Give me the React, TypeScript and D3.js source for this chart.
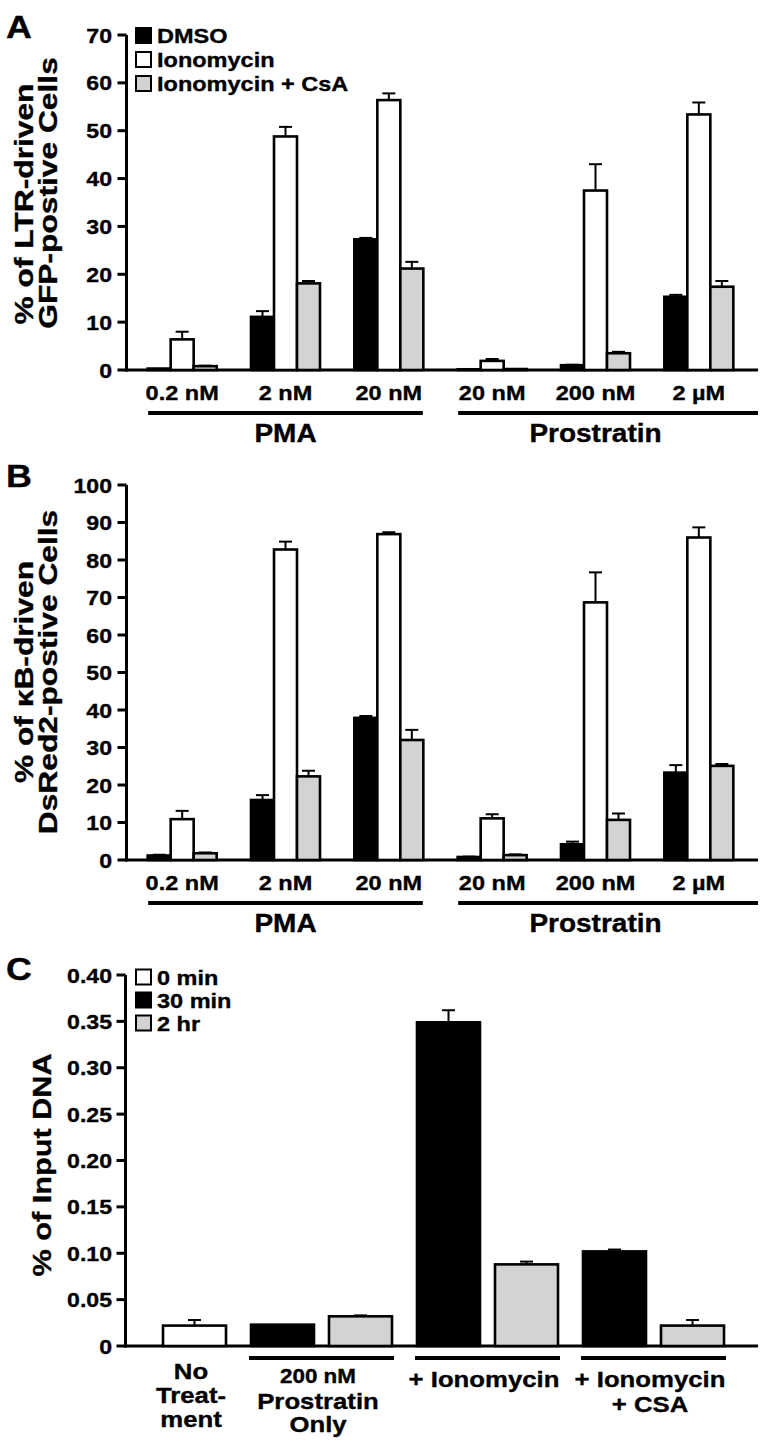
import React from "react";
import * as d3 from "d3";

// ---------- DATA ----------
const doseKeys = ["PMA 0.2 nM", "PMA 2 nM", "PMA 20 nM", "Pro 20 nM", "Pro 200 nM", "Pro 2 µM"];
const doseLabels = ["0.2 nM", "2 nM", "20 nM", "20 nM", "200 nM", "2 µM"];
const drugGroups = [
  { name: "PMA", from: 0, to: 2 },
  { name: "Prostratin", from: 3, to: 5 },
];
const seriesAB = ["DMSO", "Ionomycin", "Ionomycin + CsA"];
const seriesABFill = ["#000000", "#ffffff", "#d3d3d3"];

// Panel A: % of LTR-driven GFP-positive cells
const gfpDMSO = [0.3, 11.1, 27.3, 0.15, 1.0, 15.3];
const gfpDMSOErr = [0, 1.2, 0.3, 0, 0.1, 0.4];
const gfpIono = [6.4, 48.8, 56.4, 1.9, 37.5, 53.4];
const gfpIonoErr = [1.6, 2.0, 1.4, 0.4, 5.5, 2.5];
const gfpCsA = [0.8, 18.1, 21.2, 0.2, 3.5, 17.4];
const gfpCsAErr = [0.1, 0.5, 1.4, 0, 0.3, 1.2];
const gfpTicks = [0, 10, 20, 30, 40, 50, 60, 70];

// Panel B: % of kB-driven DsRed2-positive cells
const redDMSO = [1.2, 16.0, 37.9, 0.8, 4.2, 23.3];
const redDMSOErr = [0.2, 1.3, 0.5, 0.1, 0.7, 2.0];
const redIono = [10.9, 82.8, 86.9, 11.1, 68.7, 86.0];
const redIonoErr = [2.2, 2.1, 0.5, 1.1, 8.0, 2.7];
const redCsA = [1.8, 22.3, 32.0, 1.3, 10.7, 25.1];
const redCsAErr = [0.2, 1.5, 2.7, 0.2, 1.7, 0.5];
const redTicks = [0, 10, 20, 30, 40, 50, 60, 70, 80, 90, 100];

// Panel C: % of input DNA
const chipGroups = ["No Treatment", "200 nM Prostratin Only", "+ Ionomycin", "+ Ionomycin + CSA"];
const chipSeries = ["0 min", "30 min", "2 hr"];
const chipFill = ["#ffffff", "#000000", "#d3d3d3"];
const chip0min = [0.022, null, null, null];
const chip0minErr = [0.006, null, null, null];
const chip30min = [null, 0.023, 0.349, 0.102];
const chip30minErr = [null, 0, 0.013, 0.002];
const chip2hr = [null, 0.032, 0.088, 0.022];
const chip2hrErr = [null, 0.001, 0.003, 0.006];
const chipTicks = [0, 0.05, 0.1, 0.15, 0.2, 0.25, 0.3, 0.35, 0.4];

// ---------- helpers ----------
const FONT = "'Liberation Sans', Arial, Helvetica, sans-serif";

function T({ x, y, size, anchor = "start", sx = 1.12, rot = 0, children }: any) {
  return (
    <g transform={`translate(${x},${y}) rotate(${rot}) scale(${sx},1)`}>
      <text
        fontSize={size}
        textAnchor={anchor}
        fontWeight="bold"
        fontFamily={FONT}
        fill="#000"
        stroke="#000"
        strokeWidth={0.35}
      >
        {children}
      </text>
    </g>
  );
}

function YAxis({ y, ticks, fmt, axisX, x0, x1 }: any) {
  const y0 = y(0);
  const yTop = y(ticks[ticks.length - 1]);
  return (
    <g>
      <line x1={axisX} x2={axisX} y1={yTop} y2={y0 + 1.5} stroke="#000" strokeWidth={3} />
      <line x1={x0} x2={x1} y1={y0} y2={y0} stroke="#000" strokeWidth={3} />
      {ticks.map((t: number) => (
        <g key={t}>
          <line x1={axisX - 9} x2={axisX} y1={y(t)} y2={y(t)} stroke="#000" strokeWidth={3} />
          <T x={112} y={y(t) + 7.5} size={21} anchor="end" sx={1.1}>
            {fmt(t)}
          </T>
        </g>
      ))}
    </g>
  );
}

function Bar({ x, w, v, e, y, fill }: any) {
  const y0 = y(0);
  const yt = y(v);
  const cx = x + w / 2;
  return (
    <g>
      {e > 0 && (
        <g>
          <line x1={cx} x2={cx} y1={yt} y2={y(v + e)} stroke="#000" strokeWidth={2} />
          <line x1={cx - 6.5} x2={cx + 6.5} y1={y(v + e)} y2={y(v + e)} stroke="#000" strokeWidth={2} />
        </g>
      )}
      <rect x={x} y={yt} width={w} height={Math.max(0, y0 - yt)} fill={fill} stroke="#000" strokeWidth={2.6} />
    </g>
  );
}

function DosePanel({ letter, letterY, y, ticks, series, errs, label1, label2, l1y, l2y }: any) {
  const x = d3.scaleBand().domain(doseKeys).range([130.5, 750.5]).paddingInner(0).paddingOuter(0);
  const bw = 23;
  const y0 = y(0);
  return (
    <g>
      <T x={6} y={letterY} size={32} sx={1.12}>{letter}</T>
      <YAxis y={y} ticks={ticks} fmt={(t: number) => String(t)} axisX={126.5} x0={125} x1={758} />
      {doseKeys.map((k, i) => {
        const c = (x(k) as number) + x.bandwidth() / 2;
        return (
          <g key={k}>
            {series.map((s: number[], j: number) => (
              <Bar key={j} x={c - 1.5 * bw + j * bw} w={bw} v={s[i]} e={errs[j][i]} y={y} fill={seriesABFill[j]} />
            ))}
            <T x={c} y={y0 + 30} size={21} anchor="middle" sx={1.12}>{doseLabels[i]}</T>
          </g>
        );
      })}
      {drugGroups.map((g) => {
        const xa = (x(doseKeys[g.from]) as number) + x.bandwidth() / 2 - 34;
        const xb = (x(doseKeys[g.to]) as number) + x.bandwidth() / 2 + 34;
        const xb2 = g.to === doseKeys.length - 1 ? 758 : xb;
        return (
          <g key={g.name}>
            <line x1={xa} x2={xb2} y1={y0 + 43} y2={y0 + 43} stroke="#000" strokeWidth={4} />
            <T x={(xa + xb) / 2} y={y0 + 72} size={25} anchor="middle" sx={1.12}>{g.name}</T>
          </g>
        );
      })}
      <T x={33} y={l1y} size={25} anchor="middle" sx={1.27} rot={-90}>{label1}</T>
      <T x={57} y={l2y} size={25} anchor="middle" sx={1.27} rot={-90}>{label2}</T>
    </g>
  );
}

function Legend({ x, ys, names, fills }: any) {
  return (
    <g>
      {names.map((n: string, i: number) => (
        <g key={n}>
          <rect x={x} y={ys[i] - 7.5} width={15} height={15} fill={fills[i]} stroke="#000" strokeWidth={2} />
          <T x={x + 21} y={ys[i] + 7.5} size={21} sx={1.12}>{n}</T>
        </g>
      ))}
    </g>
  );
}

export default function App() {
  const yA = d3.scaleLinear().domain([0, 70]).range([370, 35]);
  const yB = d3.scaleLinear().domain([0, 100]).range([860, 485]);
  const yC = d3.scaleLinear().domain([0, 0.4]).range([1346, 975]);

  const xC = d3.scaleBand().domain(chipGroups).range([80, 744]).paddingInner(0).paddingOuter(0);
  const bwC = 63;
  const slotOffset = [5, 83];
  const chipSlots = [1, 0, 1];
  const chipVals = [chip0min, chip30min, chip2hr];
  const chipErrs = [chip0minErr, chip30minErr, chip2hrErr];
  const y0C = yC(0);

  const cLabels: { lines: string[]; sizes: number[]; ys: number[] }[] = [
    { lines: ["No", "Treat-", "ment"], sizes: [23, 23, 23], ys: [1379, 1403, 1427] },
    { lines: ["200 nM", "Prostratin", "Only"], sizes: [20, 23, 23], ys: [1383, 1409, 1432] },
    { lines: ["+ Ionomycin"], sizes: [23], ys: [1387] },
    { lines: ["+ Ionomycin", "+ CSA"], sizes: [23, 23], ys: [1387, 1412] },
  ];

  return (
    <svg
      width={766}
      height={1446}
      viewBox="0 0 766 1446"
      style={{ position: "absolute", left: 0, top: 0, background: "#fff" }}
    >
      <rect x={0} y={0} width={766} height={1446} fill="#fff" />
      <DosePanel
        letter="A"
        letterY={38}
        y={yA}
        ticks={gfpTicks}
        series={[gfpDMSO, gfpIono, gfpCsA]}
        errs={[gfpDMSOErr, gfpIonoErr, gfpCsAErr]}
        label1="% of LTR-driven"
        label2="GFP-postive Cells"
        l1y={204}
        l2y={193}
      />
      <Legend x={136} ys={[35.5, 59.5, 83.5]} names={seriesAB} fills={seriesABFill} />

      <DosePanel
        letter="B"
        letterY={487}
        y={yB}
        ticks={redTicks}
        series={[redDMSO, redIono, redCsA]}
        errs={[redDMSOErr, redIonoErr, redCsAErr]}
        label1="% of κB-driven"
        label2="DsRed2-postive Cells"
        l1y={672}
        l2y={672}
      />

      {/* Panel C */}
      <g>
        <T x={6} y={980} size={32} sx={1.12}>C</T>
        <YAxis
          y={yC}
          ticks={chipTicks}
          fmt={(t: number) => (t === 0 ? "0" : d3.format(".2f")(t))}
          axisX={125.5}
          x0={124}
          x1={758}
        />
        {chipGroups.map((g, gi) => {
          const gx = xC(g) as number;
          return (
            <g key={g}>
              {chipVals.map((vals, si) =>
                vals[gi] == null ? null : (
                  <Bar
                    key={si}
                    x={gx + slotOffset[chipSlots[si]]}
                    w={bwC}
                    v={vals[gi] as number}
                    e={(chipErrs[si][gi] as number) || 0}
                    y={yC}
                    fill={chipFill[si]}
                  />
                )
              )}
              {gi > 0 && (
                <line x1={gx + 3} x2={gx + 148} y1={y0C + 12} y2={y0C + 12} stroke="#000" strokeWidth={4} />
              )}
              {cLabels[gi].lines.map((ln, li) => (
                <T
                  key={li}
                  x={gi === 0 ? gx + 111 : gx + 72}
                  y={cLabels[gi].ys[li]}
                  size={cLabels[gi].sizes[li]}
                  anchor="middle"
                  sx={1.12}
                >
                  {ln}
                </T>
              ))}
            </g>
          );
        })}
        <Legend x={136} ys={[977, 1000, 1023]} names={chipSeries} fills={chipFill} />
        <T x={51} y={1165} size={26} anchor="middle" sx={1.18} rot={-90}>% of Input DNA</T>
      </g>
    </svg>
  );
}
